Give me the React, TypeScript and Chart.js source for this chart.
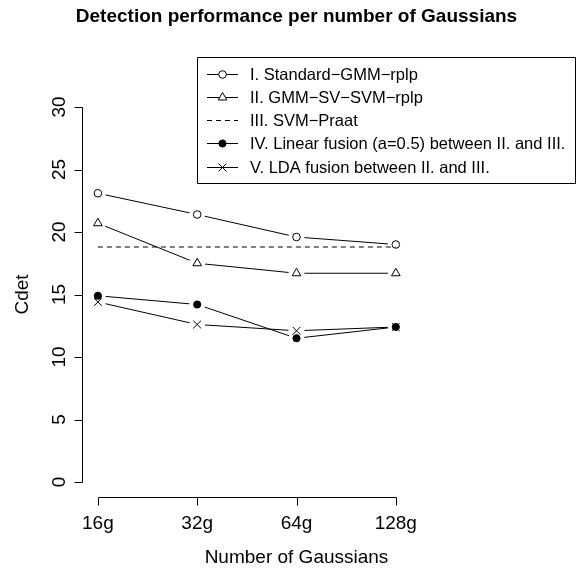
import React, { useEffect, useRef } from 'react';
import { Chart, registerables } from 'chart.js';
import { drawPoint } from 'chart.js/helpers';

Chart.register(...registerables);

// ---------- data ----------
const categories = ['16g', '32g', '64g', '128g'];
const categoryPositions = [1, 2, 3, 4];
const yTicks = [0, 5, 10, 15, 20, 25, 30];

const standardGmmRplp = [23.1, 21.4, 19.6, 19.0];
const gmmSvSvmRplp = [20.7, 17.5, 16.7, 16.7];
const svmPraat = [18.8, 18.8, 18.8, 18.8];
const linearFusion = [14.9, 14.2, 11.5, 12.4];
const ldaFusion = [14.4, 12.6, 12.1, 12.4];

const seriesLabels = [
  'I. Standard\u2212GMM\u2212rplp',
  'II. GMM\u2212SV\u2212SVM\u2212rplp',
  'III. SVM\u2212Praat',
  'IV. Linear fusion (a=0.5) between II. and III.',
  'V. LDA fusion between II. and III.',
];
const seriesValues = [standardGmmRplp, gmmSvSvmRplp, svmPraat, linearFusion, ldaFusion];

const chartTitle = 'Detection performance per number of Gaussians';
const xAxisTitle = 'Number of Gaussians';
const yAxisTitle = 'Cdet';

// ---------- styles ----------
type Style = { marker: string | null; radius: number; filled: boolean; dash: number[] };
const seriesStyles: Style[] = [
  { marker: 'circle', radius: 3.8, filled: false, dash: [] },
  { marker: 'triangle', radius: 5, filled: false, dash: [] },
  { marker: null, radius: 0, filled: false, dash: [5, 4] },
  { marker: 'circle', radius: 3.6, filled: true, dash: [] },
  { marker: 'crossRot', radius: 5.5, filled: false, dash: [] },
];

const FONT = '"Liberation Sans", Arial, Helvetica, sans-serif';
const AXIS_FONT_PX = 19;
const TITLE_FONT_PX = 19;
const LEGEND_FONT_PX = 16.5;
const GAP = 8;

const rStylePlugin = {
  id: 'rStyle',
  beforeDraw(chart: any) {
    const ctx = chart.ctx;
    ctx.save();
    ctx.fillStyle = '#ffffff';
    ctx.fillRect(0, 0, chart.width, chart.height);
    ctx.restore();
  },
  beforeDatasetDraw(chart: any, args: any) {
    const ds = chart.data.datasets[args.index];
    const ctx = chart.ctx;
    ctx.save();
    if (!ds.gapRadius) return;
    ctx.beginPath();
    ctx.rect(0, 0, chart.width, chart.height);
    for (const el of args.meta.data) {
      ctx.moveTo(el.x + ds.gapRadius, el.y);
      ctx.arc(el.x, el.y, ds.gapRadius, 0, Math.PI * 2);
    }
    ctx.clip('evenodd');
  },
  afterDatasetDraw(chart: any) {
    chart.ctx.restore();
  },
  afterDraw(chart: any) {
    const ctx = chart.ctx as CanvasRenderingContext2D;
    const xs = chart.scales.x;
    const ys = chart.scales.y;
    const area = chart.chartArea;
    ctx.save();
    ctx.strokeStyle = '#000';
    ctx.fillStyle = '#000';
    ctx.lineWidth = 1;
    ctx.setLineDash([]);

    // y axis
    const ax = Math.round(area.left) + 0.5;
    const yTop = ys.getPixelForValue(yTicks[yTicks.length - 1]);
    const yBot = ys.getPixelForValue(yTicks[0]);
    ctx.beginPath();
    ctx.moveTo(ax, Math.round(yTop) + 0.5);
    ctx.lineTo(ax, Math.round(yBot) + 0.5);
    for (const t of yTicks) {
      const py = Math.round(ys.getPixelForValue(t)) + 0.5;
      ctx.moveTo(ax, py);
      ctx.lineTo(ax - 8, py);
    }
    ctx.stroke();
    ctx.font = `${AXIS_FONT_PX}px ${FONT}`;
    ctx.textAlign = 'center';
    ctx.textBaseline = 'alphabetic';
    for (const t of yTicks) {
      const py = ys.getPixelForValue(t);
      ctx.save();
      ctx.translate(ax - 18, py);
      ctx.rotate(-Math.PI / 2);
      ctx.fillText(String(t), 0, 0);
      ctx.restore();
    }

    // x axis
    const ay = Math.round(area.bottom) + 0.5;
    const xL = xs.getPixelForValue(categoryPositions[0]);
    const xR = xs.getPixelForValue(categoryPositions[categoryPositions.length - 1]);
    ctx.beginPath();
    ctx.moveTo(Math.round(xL) + 0.5, ay);
    ctx.lineTo(Math.round(xR) + 0.5, ay);
    for (const p of categoryPositions) {
      const px = Math.round(xs.getPixelForValue(p)) + 0.5;
      ctx.moveTo(px, ay);
      ctx.lineTo(px, ay + 8);
    }
    ctx.stroke();
    categoryPositions.forEach((p, i) => {
      ctx.fillText(categories[i], xs.getPixelForValue(p), ay + 31);
    });

    // axis titles
    const cx = (area.left + area.right) / 2;
    const cy = (area.top + area.bottom) / 2;
    ctx.fillText(xAxisTitle, cx, ay + 65);
    ctx.save();
    ctx.translate(28, cy);
    ctx.rotate(-Math.PI / 2);
    ctx.fillText(yAxisTitle, 0, 0);
    ctx.restore();

    // main title
    ctx.font = `bold ${TITLE_FONT_PX}px ${FONT}`;
    ctx.fillText(chartTitle, cx, 22);

    // legend
    const bx = 197.5, by = 57.5, bw = 378, bh = 126;
    ctx.beginPath();
    ctx.rect(bx, by, bw, bh);
    ctx.stroke();
    ctx.font = `${LEGEND_FONT_PX}px ${FONT}`;
    ctx.textAlign = 'left';
    ctx.textBaseline = 'middle';
    seriesLabels.forEach((label, i) => {
      const st = seriesStyles[i];
      const ry = Math.round(by + 16 + i * 23.3) + 0.5;
      ctx.save();
      ctx.setLineDash(st.dash);
      ctx.beginPath();
      ctx.moveTo(207, ry);
      ctx.lineTo(238, ry);
      ctx.stroke();
      ctx.restore();
      if (st.marker) {
        ctx.save();
        ctx.fillStyle = st.filled ? '#000' : '#fff';
        ctx.strokeStyle = '#000';
        ctx.lineWidth = 1;
        drawPoint(ctx, { pointStyle: st.marker, radius: st.radius, rotation: 0, borderWidth: 1 } as any, 222.5, ry);
        ctx.restore();
      }
      ctx.fillText(label, 250, ry + 1);
    });
    ctx.restore();
  },
};

export default function App() {
  const canvasRef = useRef<HTMLCanvasElement | null>(null);

  useEffect(() => {
    document.body.style.margin = '0';
    document.body.style.overflow = 'hidden';
    const canvas = canvasRef.current;
    if (!canvas) return;

    const datasets: any[] = [];
    seriesValues.forEach((values, i) => {
      const st = seriesStyles[i];
      const data = categoryPositions.map((x, j) => ({ x, y: values[j] }));
      datasets.push({
        label: seriesLabels[i],
        data,
        borderColor: '#000',
        borderWidth: 1,
        borderDash: st.dash,
        pointRadius: 0,
        fill: false,
        tension: 0,
        gapRadius: st.marker ? GAP : 0,
      });
      if (st.marker) {
        datasets.push({
          label: seriesLabels[i] + ' (points)',
          data,
          showLine: false,
          pointStyle: st.marker,
          pointRadius: st.radius,
          pointBorderWidth: 1,
          pointBorderColor: '#000',
          pointBackgroundColor: st.filled ? '#000' : 'rgba(0,0,0,0)',
        });
      }
    });

    const chart = new Chart(canvas, {
      type: 'line',
      data: { datasets },
      options: {
        responsive: false,
        animation: false,
        devicePixelRatio: 1,
        events: [],
        layout: { padding: { left: 82, right: 65, top: 92, bottom: 71 } },
        scales: {
          x: { type: 'linear', min: 0.84, max: 5.16, display: false },
          y: { type: 'linear', min: -1.2, max: 31.2, display: false },
        },
        plugins: {
          legend: { display: false },
          title: { display: false },
          tooltip: { enabled: false },
        },
      },
      plugins: [rStylePlugin],
    } as any);

    return () => chart.destroy();
  }, []);

  return (
    <div style={{ width: 576, height: 568 }}>
      <canvas ref={canvasRef} width={576} height={568} style={{ display: 'block' }} />
    </div>
  );
}
